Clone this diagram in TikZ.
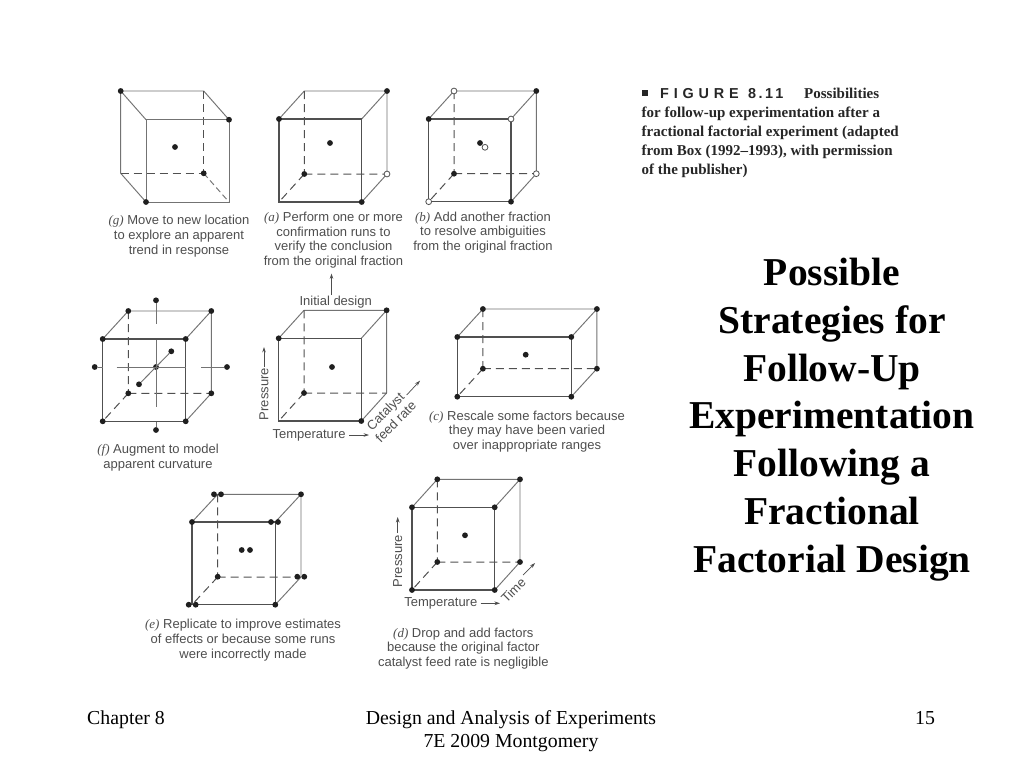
\documentclass[tikz,border=0pt]{standalone}
\usepackage{fontspec}
\setmainfont{Liberation Serif}
\newfontfamily\labfont{Liberation Sans}
\usetikzlibrary{arrows.meta}
\definecolor{inkline}{RGB}{80,80,80}
\definecolor{thinline}{RGB}{115,115,115}
\definecolor{labelgray}{RGB}{78,78,78}
\tikzset{
  front/.style={draw=inkline,line width=1.15pt},
  back/.style={draw=thinline,line width=0.95pt},
  hidden/.style={draw=inkline,line width=1pt,dash pattern=on 8pt off 5pt},
  blackdot/.style={circle,fill=black!88,inner sep=0pt,minimum size=5.8pt},
  whitedot/.style={circle,draw=inkline,fill=white,line width=0.8pt,inner sep=0pt,minimum size=5.8pt},
  caplabel/.style={text=labelgray,align=center,inner sep=0pt,font=\labfont\fontsize{13}{14.7}\selectfont},
  axislabel/.style={text=labelgray,inner sep=0pt,align=center,font=\labfont\fontsize{13}{14.5}\selectfont},
  axisarrow/.style={draw=labelgray,line width=0.7pt,-{Stealth[length=5.5pt,width=3.6pt]}},
  titlelabel/.style={align=center,inner sep=0pt,font=\fontsize{39.5}{47.8}\selectfont\bfseries},
  footlabel/.style={align=center,inner sep=0pt,font=\fontsize{19.8}{23}\selectfont},
  figlabel/.style={anchor=base west,inner sep=0pt,text=black!85,font=\fontsize{15}{16}\selectfont\bfseries}
}
% corners: name, front left x, top y, front right x, bottom y, depth x, depth y
\newcommand{\cubecorners}[7]{
  \coordinate (#1ftl) at (#2,#3);
  \coordinate (#1ftr) at (#4,#3);
  \coordinate (#1fbl) at (#2,#5);
  \coordinate (#1fbr) at (#4,#5);
  \coordinate (#1btl) at (#2+#6,#3-#7);
  \coordinate (#1btr) at (#4+#6,#3-#7);
  \coordinate (#1bbl) at (#2+#6,#5-#7);
  \coordinate (#1bbr) at (#4+#6,#5-#7);
}
\newcommand{\cubeframe}[1]{
  \draw[back] (#1btl) -- (#1btr) -- (#1bbr) (#1btl) -- (#1ftl) (#1btr) -- (#1ftr) (#1fbr) -- (#1bbr);
  \draw[hidden] (#1btl) -- (#1bbl) (#1bbl) -- (#1bbr) (#1bbl) -- (#1fbl);
  \draw[front] (#1ftl) rectangle (#1fbr);
}
\newcommand{\alldots}[1]{
  \foreach \c in {ftl,ftr,fbl,fbr,btl,btr,bbl,bbr} \node[blackdot] (#1d\c) at (#1\c) {};
}
\newcommand{\fourdots}[1]{
  \foreach \c in {ftl,fbr,btr,bbl} \node[blackdot] (#1d\c) at (#1\c) {};
}
\newcommand{\capit}[1]{{\fontspec{Liberation Serif}\itshape #1}}
\begin{document}
\begin{tikzpicture}[x=1pt,y=-1pt]
\path[use as bounding box,fill=white] (0,0) rectangle (1024,768);

% (g)
\cubecorners{g}{146}{119.7}{229}{202}{-25.3}{28.7}
\draw[back] (gbtl) -- (gbtr) (gbtl) -- (gbbl) (gbtl) -- (gftl) (gbtr) -- (gftr) (gbbl) -- (gfbl);
\draw[hidden] (gbtr) -- (gbbr) (gbbl) -- (gbbr);
\draw[draw=thinline,line width=0.95pt,dash pattern=on 6pt off 3.5pt] (gbbr) -- (gfbr);
\draw[back] (gftl) rectangle (gfbr);
\foreach \c in {btl,ftr,bbr,fbl} \node[blackdot] (gd\c) at (g\c) {};
\node[blackdot] (gcen) at (175,147) {};
\node[caplabel] (gcap) at (179,236) {\capit{(g)} Move to new location\\to explore an apparent\\trend in response};

% (a)
\cubecorners{a}{279}{119}{361.7}{202}{25.3}{28}
\cubeframe{a}
\foreach \c in {ftl,fbr,btr,bbl} \node[blackdot] (ad\c) at (a\c) {};
\node[whitedot] (adbbr) at (abbr) {};
\node[blackdot] (acen) at (330,143) {};
\node[caplabel] (acap) at (333.5,240) {\capit{(a)} Perform one or more\\confirmation runs to\\verify the conclusion\\from the original fraction};

% (b)
\cubecorners{b}{428.7}{119}{511}{201.7}{25.3}{28}
\cubeframe{b}
\foreach \c in {ftl,fbr,btr,bbl} \node[blackdot] (bd\c) at (b\c) {};
\foreach \c in {ftr,fbl,btl,bbr} \node[whitedot] (bd\c) at (b\c) {};
\node[blackdot] (bcen) at (480,143) {};
\node[whitedot] (bcenw) at (485,147.3) {};
\node[caplabel] (bcap) at (483,232.5) {\capit{(b)} Add another fraction\\to resolve ambiguities\\from the original fraction};

% (f)
\cubecorners{f}{102.7}{339}{185.7}{421.3}{25.6}{28}
\cubeframe{f}
\alldots{f}
\node[blackdot] (fcen) at (156,367) {};
\node[blackdot] (ftop) at (156,300.3) {};
\node[blackdot] (fbot) at (156,430) {};
\node[blackdot] (flef) at (94.7,367) {};
\node[blackdot] (frig) at (227,367) {};
\node[blackdot] (fnear) at (139,384.3) {};
\node[blackdot] (ffar) at (171.3,351.3) {};
\coordinate (ftopend) at (156,324.3);
\coordinate (fvtop) at (156,340);
\coordinate (fvbot) at (156,406.7);
\coordinate (fbotend) at (156,422);
\coordinate (flefend) at (103,367);
\coordinate (fhl) at (116.7,367);
\coordinate (fhr) at (185.7,367);
\coordinate (frigend) at (200.7,367);
\draw[back] (ftop) -- (ftopend) (fvtop) -- (fvbot) (fbot) -- (fbotend) (flef) -- (flefend) (fhl) -- (fhr) (frig) -- (frigend);
\draw[back] (fnear) -- (ffar);
\node[caplabel] (fcap) at (158,457.5) {\capit{(f)} Augment to model\\apparent curvature};

% initial design
\cubecorners{i}{278.7}{338.3}{361.3}{421}{25.3}{28}
\cubeframe{i}
\fourdots{i}
\node[blackdot] (icen) at (332,367) {};
\node[axislabel] (ilab) at (335.7,302.3) {Initial design};
\coordinate (iarrtop) at (331.5,273.5);
\coordinate (iarrbot) at (331.5,295);
\draw[axisarrow] (iarrbot) -- (iarrtop);
\node[axislabel,rotate=90] (ipres) at (264,394) {Pressure};
\coordinate (ipa) at (264,367);
\coordinate (ipb) at (264,347);
\draw[axisarrow] (ipa) -- (ipb);
\node[axislabel] (itemp) at (309,435) {Temperature};
\coordinate (ita) at (349,435);
\coordinate (itb) at (369,435);
\draw[axisarrow] (ita) -- (itb);
\node[axislabel,rotate=45] (icat) at (390.5,416.5) {Catalyst\\feed rate};
\coordinate (ica) at (406.7,395);
\coordinate (icb) at (420,380.7);
\draw[axisarrow] (ica) -- (icb);

% (c)
\cubecorners{c}{457.3}{337}{571.3}{396.7}{25.6}{28}
\cubeframe{c}
\alldots{c}
\node[blackdot] (ccen) at (525.7,354.7) {};
\node[caplabel] (ccap) at (527,431.5) {\capit{(c)} Rescale some factors because\\they may have been varied\\over inappropriate ranges};

% (e)
\cubecorners{e}{192}{522}{275.3}{604.7}{25.7}{27.7}
\cubeframe{e}
\foreach \n/\x/\y in {a/214/494.3,b/221/494.3,c/301/494.3,d/192/522,e/271/522,f/278/522,g/241.7/550,h/250/550,i/217.7/576.7,j/297.3/576.7,k/304.3/576.7,l/188.7/604.7,m/195.7/604.7,n/275.3/604.7}
  \node[blackdot] (edot\n) at (\x,\y) {};
\node[caplabel] (ecap) at (243,640) {\capit{(e)} Replicate to improve estimates\\of effects or because some runs\\were incorrectly made};

% (d)
\cubecorners{d}{412}{507.3}{494.7}{590}{25.3}{28}
\cubeframe{d}
\alldots{d}
\node[blackdot] (dcen) at (465,535.3) {};
\node[axislabel,rotate=90] (dpres) at (397.7,561) {Pressure};
\coordinate (dpa) at (397.7,533);
\coordinate (dpb) at (397.7,517);
\draw[axisarrow] (dpa) -- (dpb);
\node[axislabel] (dtemp) at (440.8,603.3) {Temperature};
\coordinate (dta) at (480.7,603.3);
\coordinate (dtb) at (500,603.3);
\draw[axisarrow] (dta) -- (dtb);
\node[axislabel,rotate=45] (dtime) at (513.3,590) {Time};
\coordinate (dca) at (523,575);
\coordinate (dcb) at (535,563);
\draw[axisarrow] (dca) -- (dcb);
\node[caplabel] (dcap) at (463.3,648.5) {\capit{(d)} Drop and add factors\\because the original factor\\catalyst feed rate is negligible};

% figure caption
\node[fill=black!85,inner sep=0pt,minimum size=6pt] (figsq) at (644.5,93) {};
\node[figlabel,font=\labfont\bfseries\fontsize{14.4}{16}\selectfont] (fignum) at (660,98) {F\,\,I\,\,G\,\,U\,\,R\,\,E\,\,\,\,8\,.\,1\,1};
\node[figlabel] (figa) at (804,98) {Possibilities};
\node[figlabel] (figb) at (641.5,117) {for follow-up experimentation after a};
\node[figlabel] (figc) at (641.5,136.5) {fractional factorial experiment (adapted};
\node[figlabel] (figd) at (641.5,155.5) {from Box (1992--1993), with permission};
\node[figlabel] (fige) at (641.5,174.5) {of the publisher)};

% title
\node[titlelabel] (title) at (832,419.5) {Possible\\Strategies for\\Follow-Up\\Experimentation\\Following a\\Fractional\\Factorial Design};

% footer
\node[footlabel] (fchap) at (126,719.5) {Chapter 8};
\node[footlabel] (fmid) at (511,731) {Design and Analysis of Experiments\\7E 2009 Montgomery};
\node[footlabel] (fpage) at (925,718.5) {15};
\end{tikzpicture}
\end{document}
